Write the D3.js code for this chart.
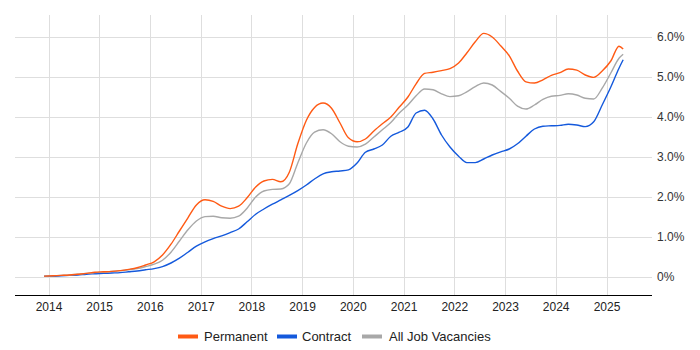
<!DOCTYPE html>
<html>
<head>
<meta charset="utf-8">
<script src="https://cdn.jsdelivr.net/npm/d3@7"></script>
<style>
  html, body { margin: 0; padding: 0; background: #fff; }
  svg { display: block; font-family: Arial, "Liberation Sans", sans-serif; }
</style>
</head>
<body>
<svg id="chart" width="700" height="350"></svg>
<script>
// ---- Data ----
const months = [
  "2013-12","2014-02","2014-04","2014-06","2014-08","2014-10","2014-12",
  "2015-02","2015-04","2015-06","2015-08","2015-10","2015-12",
  "2016-02","2016-04","2016-06","2016-08","2016-10","2016-12",
  "2017-02","2017-04","2017-06","2017-08","2017-10","2017-12",
  "2018-02","2018-04","2018-06","2018-08","2018-10","2018-12",
  "2019-02","2019-04","2019-06","2019-08","2019-10","2019-12",
  "2020-02","2020-04","2020-06","2020-08","2020-10","2020-12",
  "2021-02","2021-04","2021-06","2021-08","2021-10","2021-12",
  "2022-02","2022-04","2022-06","2022-08","2022-10","2022-12",
  "2023-02","2023-04","2023-06","2023-08","2023-10","2023-12",
  "2024-02","2024-04","2024-06","2024-08","2024-10","2024-12",
  "2025-02","2025-04","2025-05"
];
const permanent = [
  0.02,0.03,0.04,0.05,0.07,0.09,0.12,
  0.13,0.14,0.16,0.19,0.23,0.30,
  0.38,0.55,0.82,1.15,1.48,1.80,
  1.93,1.89,1.77,1.71,1.77,1.98,
  2.25,2.40,2.44,2.38,2.62,3.33,
  3.92,4.24,4.35,4.22,3.85,3.48,
  3.38,3.45,3.65,3.83,4.00,4.25,
  4.50,4.83,5.09,5.12,5.16,5.21,
  5.35,5.60,5.88,6.09,6.00,5.78,
  5.53,5.15,4.88,4.85,4.93,5.04,
  5.11,5.20,5.17,5.05,4.99,5.15,
  5.40,5.77,5.70
];
const contract = [
  0.02,0.02,0.03,0.04,0.05,0.07,0.08,
  0.09,0.10,0.11,0.13,0.15,0.18,
  0.21,0.26,0.35,0.47,0.62,0.77,
  0.88,0.96,1.03,1.11,1.20,1.38,
  1.57,1.70,1.82,1.93,2.04,2.16,
  2.30,2.45,2.58,2.63,2.65,2.68,
  2.85,3.12,3.20,3.30,3.52,3.62,
  3.75,4.10,4.17,3.95,3.55,3.25,
  3.02,2.86,2.86,2.95,3.05,3.13,
  3.20,3.33,3.52,3.70,3.77,3.78,
  3.79,3.82,3.80,3.76,3.88,4.30,
  4.75,5.22,5.43
];
const allJobs = [
  0.02,0.03,0.04,0.05,0.07,0.09,0.11,
  0.12,0.14,0.16,0.18,0.21,0.26,
  0.32,0.42,0.62,0.90,1.18,1.40,
  1.51,1.52,1.48,1.47,1.52,1.72,
  2.00,2.15,2.19,2.20,2.33,2.85,
  3.35,3.62,3.68,3.58,3.38,3.27,
  3.25,3.32,3.50,3.68,3.86,4.10,
  4.30,4.53,4.70,4.68,4.58,4.51,
  4.53,4.63,4.76,4.85,4.80,4.64,
  4.47,4.27,4.20,4.30,4.44,4.52,
  4.54,4.58,4.55,4.47,4.45,4.72,
  5.10,5.47,5.57
];
const yearTicks = [2014,2015,2016,2017,2018,2019,2020,2021,2022,2023,2024,2025];
const yTicks = [0,1,2,3,4,5,6];
const seriesNames = ["Permanent","Contract","All Job Vacancies"];
const seriesColors = ["#ff5a14","#1459dc","#a8a8a8"];

// ---- Layout ----
const svg = d3.select("#chart");
const plot = {left: 15, right: 652, top: 15, bottom: 295};

const parse = d3.timeParse("%Y-%m");
const x = d3.scaleTime()
  .domain([new Date(2014,0,1), new Date(2025,0,1)])
  .range([48.5, 606.5]);
const y = d3.scaleLinear().domain([0,6]).range([277,37]);

// grid
const grid = svg.append("g");
grid.selectAll("line.v").data(yearTicks).enter().append("line")
  .attr("x1", d => Math.round(x(new Date(d,0,1))) + 0.5)
  .attr("x2", d => Math.round(x(new Date(d,0,1))) + 0.5)
  .attr("y1", plot.top).attr("y2", plot.bottom)
  .attr("stroke", "#dedede").attr("stroke-width", 1);
grid.selectAll("line.h").data(yTicks).enter().append("line")
  .attr("x1", plot.left).attr("x2", plot.right)
  .attr("y1", d => Math.round(y(d)) + 0.5)
  .attr("y2", d => Math.round(y(d)) + 0.5)
  .attr("stroke", "#dedede").attr("stroke-width", 1);

// y axis labels (right)
const yAxis = d3.axisRight(y).tickValues(yTicks)
  .tickFormat(d => d === 0 ? "0%" : d3.format(".1f")(d) + "%")
  .tickSize(0).tickPadding(0);
const gy = svg.append("g").attr("transform", `translate(657,0)`).call(yAxis);
gy.select(".domain").remove();
gy.selectAll("text").attr("font-size", 12).attr("fill", "#333")
  .attr("font-family", "Arial, 'Liberation Sans', sans-serif");

// x axis
const xAxis = d3.axisBottom(x).tickValues(yearTicks.map(d => new Date(d,0,1)))
  .tickFormat(d3.timeFormat("%Y")).tickSize(0).tickPadding(7);
const gx = svg.append("g").attr("transform", `translate(0,${plot.bottom})`).call(xAxis);
gx.select(".domain").remove();
gx.selectAll("text").attr("font-size", 12).attr("fill", "#222")
  .attr("font-family", "Arial, 'Liberation Sans', sans-serif");
svg.append("line")
  .attr("x1", plot.left).attr("x2", plot.right)
  .attr("y1", plot.bottom + 0.5).attr("y2", plot.bottom + 0.5)
  .attr("stroke", "#000").attr("stroke-width", 1);

// lines
const dates = months.map(parse);
const allSeries = [permanent, contract, allJobs];
const line = d3.line()
  .x((d,i) => x(dates[i]))
  .y(d => y(d))
  .curve(d3.curveMonotoneX);
// draw order: contract, all, permanent on top
[1,2,0].forEach(k => {
  svg.append("path")
    .datum(allSeries[k])
    .attr("fill", "none")
    .attr("stroke", seriesColors[k])
    .attr("stroke-width", 1.4)
    .attr("d", line);
});

// legend
const legendItems = [
  {name: seriesNames[0], color: seriesColors[0], sx: 178, tx: 204},
  {name: seriesNames[1], color: seriesColors[1], sx: 277, tx: 302},
  {name: seriesNames[2], color: seriesColors[2], sx: 362, tx: 389}
];
const lg = svg.append("g");
legendItems.forEach(it => {
  lg.append("line")
    .attr("x1", it.sx).attr("x2", it.sx + 20)
    .attr("y1", 336.5).attr("y2", 336.5)
    .attr("stroke", it.color).attr("stroke-width", 4);
  lg.append("text")
    .attr("x", it.tx).attr("y", 341)
    .attr("font-size", 13).attr("fill", "#222")
    .text(it.name);
});
</script>
</body>
</html>
